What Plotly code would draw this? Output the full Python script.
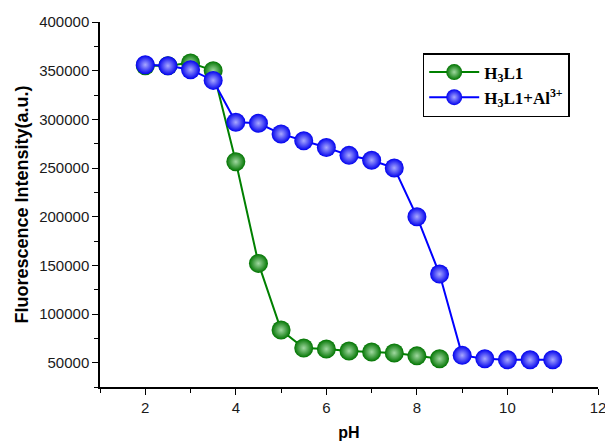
import plotly.graph_objects as go

ph_l1 = [2, 2.5, 3, 3.5, 4, 4.5, 5, 5.5, 6, 6.5, 7, 7.5, 8, 8.5]
fl_l1 = [355000, 355000, 358000, 350000, 256500, 152000, 83500, 65000, 64000, 62000, 61000, 60000, 57000, 54000]

ph_al = [2, 2.5, 3, 3.5, 4, 4.5, 5, 5.5, 6, 6.5, 7, 7.5, 8, 8.5, 9, 9.5, 10, 10.5, 11]
fl_al = [356000, 355000, 351000, 340000, 297000, 296000, 285000, 278000, 271000, 263000, 258000, 250000,
         200000, 141000, 57500, 54000, 53000, 53000, 53000]

names = ["<b>H<sub>3</sub>L1</b>", "<b>H<sub>3</sub>L1+Al<sup>3+</sup></b>"]

fig = go.Figure()
fig.add_trace(go.Scatter(
    x=ph_l1, y=fl_l1, name=names[0], mode="lines+markers",
    line=dict(color="#008000", width=2),
    marker=dict(size=19, color="#007400", line=dict(width=0),
                gradient=dict(type="radial", color="#a0d8a0")),
))
fig.add_trace(go.Scatter(
    x=ph_al, y=fl_al, name=names[1], mode="lines+markers",
    line=dict(color="#0000ff", width=2),
    marker=dict(size=19, color="#0000ee", line=dict(width=0),
                gradient=dict(type="radial", color="#a8a8ff")),
))

axis_common = dict(
    showline=True, linecolor="black", linewidth=1.5, mirror=False,
    ticks="outside", ticklen=6, tickwidth=1.2, tickcolor="black",
    showgrid=False, zeroline=False, ticklabeloverflow="allow", automargin=False,
    tickfont=dict(family="Liberation Sans, Arial", size=15, color="#1a1a1a"),
)

fig.update_xaxes(
    range=[1, 12], tickvals=[2, 4, 6, 8, 10, 12],
    minor=dict(tickvals=[1, 3, 5, 7, 9, 11], ticks="outside", ticklen=4, tickcolor="black", tickwidth=1.2),
    title=dict(text="<b>pH</b>", font=dict(family="Liberation Sans, Arial", size=16, color="black"), standoff=12),
    **axis_common,
)
fig.update_yaxes(
    range=[25000, 400000], tickvals=[50000, 100000, 150000, 200000, 250000, 300000, 350000, 400000],
    tickformat="d",
    minor=dict(tickvals=[25000, 75000, 125000, 175000, 225000, 275000, 325000, 375000],
               ticks="outside", ticklen=4, tickcolor="black", tickwidth=1.2),
    title=dict(text="<b>Fluorescence Intensity(a.u.)</b>",
               font=dict(family="Liberation Sans, Arial", size=18, color="black"), standoff=6),
    **axis_common,
)

fig.update_layout(
    width=605, height=442,
    margin=dict(l=100, r=7, t=22, b=55),
    plot_bgcolor="white", paper_bgcolor="white",
    legend=dict(
        x=0.648, y=0.915, xanchor="left", yanchor="top",
        bordercolor="black", borderwidth=1.5, bgcolor="white",
        font=dict(family="Liberation Serif, Times New Roman", size=17, color="black"),
        itemwidth=50, tracegroupgap=0,
    ),
    showlegend=True,
)

fig.write_html("out.html")
